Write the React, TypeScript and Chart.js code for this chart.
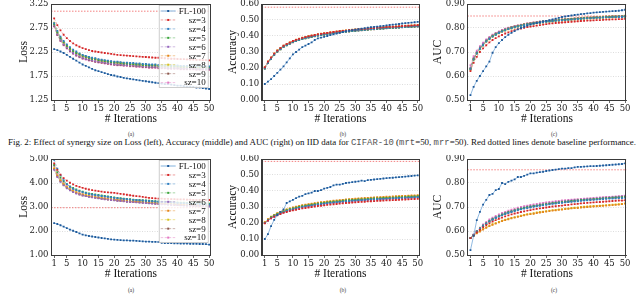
import React, { useEffect, useLayoutEffect, useRef } from 'react';
import { Chart, registerables } from 'chart.js';

Chart.register(...registerables);

// ---------------- data ----------------
const ITERATIONS = [1,2,3,4,5,6,7,8,9,10,11,12,13,14,15,16,17,18,19,20,21,22,23,24,25,26,27,28,29,30,31,32,33,34,35,36,37,38,39,40,41,42,43,44,45,46,47,48,49,50];
const X_TICKS = [1,5,10,15,20,25,30,35,40,45,50];
const X_MIN = 0;
const X_MAX = 50.5;
const SERIES_LABELS = ['FL-100','sz=3','sz=4','sz=5','sz=6','sz=7','sz=8','sz=9','sz=10'];
const MARK_COLORS = ['#1f5a9a','#d62728','#2f7fc0','#3ca53c','#9467bd','#e5861a','#d8c21c','#8c564b','#e377c2'];
const LINE_COLORS = ['rgba(70,140,205,0.75)','rgba(214,39,40,0.5)','rgba(47,127,192,0.5)','rgba(60,165,60,0.5)','rgba(148,103,189,0.5)','rgba(229,134,26,0.5)','rgba(216,194,28,0.55)','rgba(140,86,75,0.5)','rgba(227,119,194,0.5)'];

const IID_LOSS_TICKS = [1.25,1.75,2.25,2.75,3.25];
const ACC_TICKS = [0,0.1,0.2,0.3,0.4,0.5,0.6];
const AUC_TICKS = [0.5,0.6,0.7,0.8,0.9];
const NONIID_LOSS_TICKS = [1,2,3,4,5];

const IID_LOSS_BASELINE = 3.10;
const IID_ACC_BASELINE = 0.58;
const IID_AUC_BASELINE = 0.85;
const NONIID_LOSS_BASELINE = 2.97;
const NONIID_ACC_BASELINE = 0.585;
const NONIID_AUC_BASELINE = 0.855;

// IID loss
const IID_LOSS_FL100 = [2.31,2.29,2.26,2.23,2.19,2.15,2.11,2.07,2.03,1.99,1.96,1.93,1.90,1.87,1.85,1.83,1.81,1.79,1.77,1.76,1.74,1.73,1.71,1.70,1.69,1.68,1.67,1.66,1.65,1.64,1.63,1.62,1.61,1.60,1.59,1.58,1.58,1.57,1.56,1.55,1.55,1.54,1.53,1.53,1.52,1.51,1.51,1.50,1.49,1.48];
const IID_LOSS_SZ3 = [2.95,2.81,2.70,2.61,2.54,2.48,2.43,2.39,2.36,2.33,2.31,2.29,2.27,2.26,2.25,2.24,2.23,2.22,2.21,2.20,2.19,2.185,2.18,2.175,2.17,2.165,2.16,2.155,2.15,2.145,2.14,2.135,2.13,2.13,2.125,2.12,2.115,2.11,2.11,2.105,2.10,2.10,2.095,2.09,2.09,2.085,2.085,2.08,2.08,2.075];
const IID_LOSS_SZ4 = [2.85,2.69,2.57,2.48,2.41,2.35,2.30,2.26,2.22,2.19,2.17,2.15,2.13,2.12,2.10,2.09,2.08,2.07,2.06,2.05,2.05,2.04,2.03,2.03,2.02,2.02,2.01,2.01,2.00,2.00,1.99,1.99,1.99,1.98,1.98,1.98,1.97,1.97,1.97,1.97,1.96,1.96,1.96,1.96,1.96,1.95,1.95,1.95,1.95,1.95];
const IID_LOSS_SZ5 = [2.83,2.66,2.54,2.45,2.38,2.32,2.27,2.23,2.20,2.17,2.15,2.13,2.11,2.10,2.08,2.07,2.06,2.05,2.04,2.03,2.03,2.02,2.01,2.01,2.00,2.00,1.99,1.99,1.98,1.98,1.97,1.97,1.97,1.96,1.96,1.96,1.95,1.95,1.95,1.95,1.94,1.94,1.94,1.94,1.94,1.93,1.93,1.93,1.93,1.93];
const IID_LOSS_SZ6 = [2.80,2.62,2.50,2.41,2.34,2.28,2.23,2.19,2.16,2.13,2.11,2.09,2.08,2.06,2.05,2.04,2.03,2.02,2.01,2.00,1.99,1.99,1.98,1.98,1.97,1.97,1.96,1.96,1.95,1.95,1.94,1.94,1.94,1.93,1.93,1.93,1.92,1.92,1.92,1.92,1.91,1.91,1.91,1.91,1.91,1.90,1.90,1.90,1.90,1.90];
const IID_LOSS_SZ7 = [2.82,2.65,2.53,2.44,2.37,2.31,2.26,2.22,2.19,2.16,2.14,2.12,2.10,2.09,2.07,2.06,2.05,2.04,2.03,2.02,2.02,2.01,2.00,2.00,1.99,1.99,1.98,1.98,1.97,1.97,1.96,1.96,1.96,1.95,1.95,1.95,1.94,1.94,1.94,1.94,1.93,1.93,1.93,1.93,1.93,1.92,1.92,1.92,1.92,1.92];
const IID_LOSS_SZ8 = [2.86,2.68,2.55,2.46,2.39,2.33,2.28,2.24,2.21,2.18,2.16,2.14,2.12,2.11,2.09,2.08,2.07,2.06,2.05,2.04,2.04,2.03,2.02,2.02,2.01,2.01,2.00,2.00,1.99,1.99,1.98,1.98,1.98,1.97,1.97,1.97,1.96,1.96,1.96,1.96,1.95,1.95,1.95,1.95,1.95,1.94,1.94,1.94,1.94,1.94];
const IID_LOSS_SZ9 = [2.79,2.61,2.49,2.40,2.33,2.27,2.22,2.18,2.15,2.12,2.10,2.08,2.07,2.05,2.04,2.03,2.02,2.01,2.00,1.99,1.98,1.98,1.97,1.97,1.96,1.96,1.95,1.95,1.94,1.94,1.93,1.93,1.93,1.92,1.92,1.92,1.91,1.91,1.91,1.91,1.90,1.90,1.90,1.90,1.90,1.89,1.89,1.89,1.89,1.89];
const IID_LOSS_SZ10 = [2.78,2.60,2.48,2.39,2.32,2.26,2.21,2.17,2.14,2.11,2.09,2.07,2.06,2.04,2.03,2.02,2.01,2.00,1.99,1.98,1.97,1.97,1.96,1.96,1.95,1.95,1.94,1.94,1.93,1.93,1.92,1.92,1.92,1.91,1.91,1.91,1.90,1.90,1.90,1.90,1.89,1.89,1.89,1.89,1.89,1.88,1.88,1.88,1.88,1.88];

// IID accuracy
const IID_ACC_FL100 = [0.100,0.115,0.130,0.150,0.170,0.190,0.210,0.235,0.260,0.285,0.300,0.315,0.330,0.340,0.350,0.360,0.375,0.385,0.390,0.395,0.400,0.405,0.410,0.415,0.420,0.425,0.430,0.433,0.437,0.440,0.443,0.446,0.449,0.452,0.455,0.457,0.459,0.461,0.463,0.466,0.469,0.471,0.473,0.475,0.478,0.480,0.482,0.484,0.486,0.488];
const IID_ACC_SZ3 = [0.204,0.240,0.265,0.290,0.309,0.324,0.339,0.349,0.359,0.369,0.376,0.382,0.388,0.393,0.398,0.402,0.406,0.410,0.413,0.416,0.419,0.422,0.425,0.427,0.430,0.432,0.434,0.436,0.438,0.440,0.442,0.444,0.445,0.447,0.449,0.450,0.452,0.453,0.454,0.456,0.457,0.458,0.459,0.460,0.462,0.463,0.464,0.465,0.466,0.467];
const IID_ACC_SZ4 = [0.198,0.233,0.258,0.283,0.303,0.318,0.333,0.343,0.353,0.363,0.370,0.376,0.382,0.387,0.392,0.396,0.400,0.404,0.407,0.410,0.413,0.416,0.419,0.421,0.424,0.426,0.428,0.430,0.432,0.434,0.436,0.438,0.439,0.441,0.443,0.444,0.446,0.447,0.448,0.450,0.451,0.452,0.453,0.454,0.456,0.457,0.458,0.459,0.460,0.461];
const IID_ACC_SZ5 = [0.197,0.232,0.257,0.282,0.302,0.317,0.332,0.342,0.352,0.362,0.369,0.375,0.381,0.386,0.391,0.395,0.399,0.403,0.406,0.409,0.412,0.415,0.418,0.420,0.423,0.425,0.427,0.429,0.431,0.433,0.435,0.437,0.438,0.440,0.442,0.443,0.445,0.446,0.447,0.449,0.450,0.451,0.452,0.453,0.455,0.456,0.457,0.458,0.459,0.460];
const IID_ACC_SZ6 = [0.202,0.237,0.262,0.287,0.307,0.322,0.337,0.347,0.357,0.367,0.374,0.380,0.386,0.391,0.396,0.400,0.404,0.408,0.411,0.414,0.417,0.420,0.423,0.425,0.428,0.430,0.432,0.434,0.436,0.438,0.440,0.442,0.443,0.445,0.447,0.448,0.450,0.451,0.452,0.454,0.455,0.456,0.457,0.458,0.460,0.461,0.462,0.463,0.464,0.465];
const IID_ACC_SZ7 = [0.205,0.241,0.266,0.291,0.310,0.325,0.340,0.350,0.360,0.370,0.377,0.383,0.389,0.394,0.399,0.403,0.407,0.411,0.414,0.417,0.420,0.423,0.426,0.428,0.431,0.433,0.435,0.437,0.439,0.441,0.443,0.445,0.446,0.448,0.450,0.451,0.453,0.454,0.455,0.457,0.458,0.459,0.460,0.461,0.463,0.464,0.465,0.466,0.467,0.468];
const IID_ACC_SZ8 = [0.203,0.238,0.263,0.288,0.308,0.323,0.338,0.348,0.358,0.368,0.375,0.381,0.387,0.392,0.397,0.401,0.405,0.409,0.412,0.415,0.418,0.421,0.424,0.426,0.429,0.431,0.433,0.435,0.437,0.439,0.441,0.443,0.444,0.446,0.448,0.449,0.451,0.452,0.453,0.455,0.456,0.457,0.458,0.459,0.461,0.462,0.463,0.464,0.465,0.466];
const IID_ACC_SZ9 = [0.196,0.231,0.256,0.281,0.301,0.316,0.331,0.341,0.351,0.361,0.368,0.374,0.380,0.385,0.390,0.394,0.398,0.402,0.405,0.408,0.411,0.414,0.417,0.419,0.422,0.424,0.426,0.428,0.430,0.432,0.434,0.436,0.437,0.439,0.441,0.442,0.444,0.445,0.446,0.448,0.449,0.450,0.451,0.452,0.454,0.455,0.456,0.457,0.458,0.459];
const IID_ACC_SZ10 = [0.200,0.235,0.260,0.285,0.305,0.320,0.335,0.345,0.355,0.365,0.372,0.378,0.384,0.389,0.394,0.398,0.402,0.406,0.409,0.412,0.415,0.418,0.421,0.423,0.426,0.428,0.430,0.432,0.434,0.436,0.438,0.440,0.441,0.443,0.445,0.446,0.448,0.449,0.450,0.452,0.453,0.454,0.455,0.456,0.458,0.459,0.460,0.461,0.462,0.463];

// IID AUC
const IID_AUC_FL100 = [0.520,0.555,0.580,0.600,0.620,0.640,0.660,0.697,0.720,0.737,0.750,0.762,0.772,0.780,0.787,0.794,0.800,0.805,0.810,0.814,0.818,0.821,0.824,0.827,0.830,0.833,0.836,0.839,0.842,0.846,0.848,0.850,0.852,0.854,0.856,0.858,0.859,0.861,0.862,0.864,0.865,0.866,0.867,0.868,0.869,0.870,0.871,0.872,0.874,0.876];
const IID_AUC_SZ3 = [0.620,0.655,0.680,0.700,0.715,0.728,0.740,0.750,0.758,0.765,0.771,0.777,0.782,0.787,0.791,0.795,0.798,0.801,0.804,0.806,0.808,0.810,0.812,0.814,0.816,0.818,0.819,0.821,0.822,0.823,0.824,0.825,0.826,0.827,0.828,0.829,0.830,0.831,0.831,0.832,0.833,0.833,0.834,0.835,0.835,0.836,0.836,0.837,0.837,0.838];
const IID_AUC_SZ4 = [0.628,0.668,0.693,0.713,0.728,0.743,0.754,0.764,0.772,0.779,0.785,0.790,0.795,0.799,0.803,0.806,0.809,0.812,0.814,0.816,0.818,0.820,0.822,0.824,0.826,0.827,0.828,0.830,0.831,0.832,0.833,0.834,0.835,0.836,0.837,0.838,0.839,0.840,0.840,0.841,0.842,0.842,0.843,0.844,0.844,0.845,0.845,0.846,0.846,0.847];
const IID_AUC_SZ5 = [0.630,0.670,0.695,0.715,0.730,0.745,0.756,0.766,0.774,0.781,0.787,0.792,0.797,0.801,0.805,0.808,0.811,0.814,0.816,0.818,0.820,0.822,0.824,0.826,0.828,0.829,0.830,0.832,0.833,0.834,0.835,0.836,0.837,0.838,0.839,0.840,0.841,0.842,0.842,0.843,0.844,0.844,0.845,0.846,0.846,0.847,0.847,0.848,0.848,0.849];
const IID_AUC_SZ6 = [0.635,0.675,0.700,0.720,0.735,0.749,0.760,0.769,0.777,0.784,0.790,0.795,0.799,0.803,0.807,0.810,0.813,0.815,0.818,0.820,0.822,0.824,0.826,0.827,0.829,0.830,0.832,0.833,0.834,0.835,0.836,0.837,0.838,0.839,0.840,0.841,0.842,0.843,0.843,0.844,0.845,0.845,0.846,0.847,0.847,0.848,0.848,0.849,0.849,0.850];
const IID_AUC_SZ7 = [0.632,0.672,0.697,0.717,0.732,0.747,0.758,0.768,0.776,0.783,0.789,0.794,0.799,0.803,0.807,0.810,0.813,0.816,0.818,0.820,0.822,0.824,0.826,0.828,0.830,0.831,0.832,0.834,0.835,0.836,0.837,0.838,0.839,0.840,0.841,0.842,0.843,0.844,0.844,0.845,0.846,0.846,0.847,0.848,0.848,0.849,0.849,0.850,0.850,0.851];
const IID_AUC_SZ8 = [0.626,0.666,0.691,0.711,0.727,0.742,0.753,0.763,0.771,0.778,0.784,0.789,0.794,0.798,0.802,0.805,0.808,0.811,0.813,0.815,0.817,0.819,0.821,0.823,0.825,0.826,0.827,0.829,0.830,0.831,0.832,0.833,0.834,0.835,0.836,0.837,0.838,0.839,0.839,0.840,0.841,0.841,0.842,0.843,0.843,0.844,0.844,0.845,0.845,0.846];
const IID_AUC_SZ9 = [0.631,0.671,0.696,0.716,0.731,0.746,0.757,0.767,0.775,0.782,0.788,0.793,0.798,0.802,0.806,0.809,0.812,0.815,0.817,0.819,0.821,0.823,0.825,0.827,0.829,0.830,0.831,0.833,0.834,0.835,0.836,0.837,0.838,0.839,0.840,0.841,0.842,0.843,0.843,0.844,0.845,0.845,0.846,0.847,0.847,0.848,0.848,0.849,0.849,0.850];
const IID_AUC_SZ10 = [0.645,0.683,0.706,0.724,0.739,0.752,0.763,0.772,0.780,0.786,0.792,0.797,0.801,0.805,0.808,0.811,0.814,0.816,0.819,0.821,0.823,0.825,0.826,0.828,0.829,0.831,0.832,0.833,0.834,0.835,0.836,0.837,0.838,0.839,0.840,0.841,0.842,0.842,0.843,0.844,0.844,0.845,0.845,0.846,0.846,0.847,0.847,0.848,0.848,0.849];

// non-IID loss
const NONIID_LOSS_FL100 = [2.33,2.29,2.24,2.18,2.12,2.06,2.01,1.96,1.90,1.85,1.82,1.79,1.77,1.75,1.73,1.71,1.69,1.67,1.65,1.64,1.63,1.62,1.61,1.61,1.60,1.60,1.59,1.58,1.57,1.56,1.56,1.55,1.55,1.54,1.51,1.50,1.50,1.50,1.49,1.49,1.48,1.48,1.48,1.47,1.47,1.47,1.46,1.46,1.45,1.43];
const NONIID_LOSS_SZ3 = [4.82,4.55,4.35,4.20,4.10,4.01,3.94,3.88,3.84,3.80,3.76,3.73,3.70,3.68,3.66,3.64,3.62,3.61,3.60,3.59,3.57,3.55,3.53,3.51,3.49,3.47,3.45,3.44,3.42,3.40,3.38,3.37,3.36,3.35,3.35,3.34,3.34,3.33,3.33,3.32,3.32,3.32,3.31,3.31,3.30,3.30,3.30,3.29,3.29,3.29];
const NONIID_LOSS_SZ4 = [4.97,4.60,4.33,4.12,3.95,3.84,3.76,3.70,3.66,3.62,3.58,3.55,3.52,3.50,3.48,3.46,3.44,3.42,3.40,3.38,3.37,3.35,3.34,3.33,3.31,3.30,3.29,3.28,3.27,3.26,3.25,3.24,3.23,3.22,3.21,3.20,3.19,3.19,3.18,3.17,3.16,3.16,3.15,3.14,3.14,3.13,3.12,3.12,3.11,3.10];
const NONIID_LOSS_SZ5 = [4.75,4.45,4.23,4.07,3.95,3.86,3.79,3.73,3.68,3.64,3.60,3.57,3.54,3.52,3.50,3.48,3.46,3.44,3.42,3.40,3.38,3.37,3.35,3.34,3.33,3.31,3.30,3.29,3.28,3.27,3.26,3.25,3.24,3.23,3.22,3.22,3.21,3.20,3.19,3.19,3.18,3.18,3.17,3.17,3.16,3.16,3.15,3.15,3.15,3.14];
const NONIID_LOSS_SZ6 = [4.55,4.25,4.05,3.90,3.78,3.69,3.62,3.56,3.52,3.48,3.45,3.42,3.40,3.38,3.36,3.34,3.32,3.31,3.29,3.28,3.26,3.25,3.24,3.22,3.21,3.20,3.19,3.18,3.17,3.16,3.15,3.14,3.13,3.12,3.11,3.11,3.10,3.09,3.08,3.08,3.07,3.06,3.06,3.05,3.05,3.04,3.04,3.03,3.03,3.02];
const NONIID_LOSS_SZ7 = [4.60,4.30,4.09,3.93,3.81,3.72,3.65,3.59,3.54,3.50,3.47,3.44,3.42,3.40,3.38,3.36,3.34,3.32,3.31,3.29,3.28,3.26,3.25,3.24,3.23,3.22,3.21,3.20,3.19,3.18,3.17,3.16,3.15,3.14,3.13,3.12,3.12,3.11,3.10,3.09,3.09,3.08,3.07,3.07,3.06,3.06,3.05,3.05,3.04,3.04];
const NONIID_LOSS_SZ8 = [4.62,4.33,4.12,3.96,3.84,3.75,3.68,3.62,3.57,3.53,3.50,3.47,3.44,3.42,3.40,3.38,3.36,3.35,3.33,3.32,3.30,3.29,3.27,3.26,3.25,3.24,3.23,3.22,3.21,3.20,3.19,3.18,3.17,3.16,3.15,3.14,3.14,3.13,3.12,3.12,3.11,3.10,3.10,3.09,3.09,3.08,3.08,3.07,3.07,3.06];
const NONIID_LOSS_SZ9 = [4.58,4.28,4.07,3.91,3.80,3.71,3.64,3.58,3.53,3.49,3.46,3.43,3.41,3.39,3.37,3.35,3.33,3.32,3.30,3.29,3.27,3.26,3.25,3.23,3.22,3.21,3.20,3.19,3.18,3.17,3.16,3.15,3.14,3.13,3.13,3.12,3.11,3.10,3.10,3.09,3.08,3.08,3.07,3.07,3.06,3.06,3.05,3.05,3.04,3.04];
const NONIID_LOSS_SZ10 = [4.70,4.38,4.16,4.00,3.88,3.79,3.72,3.66,3.61,3.57,3.54,3.51,3.48,3.46,3.44,3.42,3.40,3.38,3.37,3.35,3.34,3.32,3.31,3.30,3.28,3.27,3.26,3.25,3.24,3.23,3.22,3.21,3.20,3.19,3.18,3.18,3.17,3.16,3.15,3.15,3.14,3.13,3.13,3.12,3.12,3.11,3.11,3.10,3.10,3.09];

// non-IID accuracy
const NONIID_ACC_FL100 = [0.100,0.130,0.180,0.220,0.250,0.270,0.285,0.325,0.335,0.345,0.355,0.365,0.370,0.380,0.385,0.390,0.400,0.400,0.405,0.415,0.420,0.425,0.435,0.440,0.440,0.445,0.450,0.452,0.455,0.458,0.460,0.465,0.462,0.468,0.470,0.472,0.474,0.476,0.478,0.480,0.482,0.483,0.485,0.487,0.488,0.490,0.492,0.494,0.496,0.498];
const NONIID_ACC_SZ3 = [0.198,0.215,0.229,0.239,0.248,0.256,0.263,0.269,0.274,0.279,0.283,0.287,0.291,0.294,0.297,0.300,0.303,0.306,0.308,0.310,0.313,0.315,0.317,0.319,0.321,0.323,0.325,0.326,0.328,0.329,0.331,0.332,0.333,0.335,0.336,0.337,0.338,0.339,0.340,0.341,0.342,0.343,0.344,0.345,0.346,0.347,0.348,0.349,0.350,0.351];
const NONIID_ACC_SZ4 = [0.199,0.216,0.231,0.242,0.252,0.261,0.268,0.275,0.281,0.286,0.291,0.296,0.300,0.304,0.307,0.310,0.313,0.316,0.319,0.321,0.324,0.326,0.328,0.330,0.332,0.334,0.336,0.337,0.339,0.340,0.342,0.343,0.344,0.346,0.347,0.348,0.349,0.350,0.351,0.352,0.353,0.354,0.355,0.356,0.357,0.358,0.359,0.360,0.361,0.362];
const NONIID_ACC_SZ5 = [0.201,0.220,0.236,0.247,0.257,0.266,0.273,0.280,0.286,0.291,0.296,0.301,0.305,0.309,0.312,0.315,0.318,0.321,0.324,0.326,0.329,0.331,0.333,0.335,0.337,0.339,0.341,0.342,0.344,0.345,0.347,0.348,0.349,0.351,0.352,0.353,0.354,0.355,0.356,0.357,0.358,0.359,0.360,0.361,0.362,0.363,0.364,0.365,0.366,0.367];
const NONIID_ACC_SZ6 = [0.199,0.214,0.229,0.240,0.250,0.259,0.266,0.273,0.279,0.284,0.289,0.294,0.298,0.302,0.305,0.308,0.311,0.314,0.317,0.319,0.322,0.324,0.326,0.328,0.330,0.332,0.334,0.335,0.337,0.338,0.340,0.341,0.342,0.344,0.345,0.346,0.347,0.348,0.349,0.350,0.351,0.352,0.353,0.354,0.355,0.356,0.357,0.358,0.359,0.360];
const NONIID_ACC_SZ7 = [0.205,0.224,0.239,0.251,0.261,0.270,0.278,0.285,0.291,0.297,0.302,0.307,0.311,0.315,0.318,0.321,0.324,0.327,0.330,0.332,0.335,0.337,0.339,0.341,0.343,0.345,0.347,0.349,0.350,0.352,0.353,0.355,0.356,0.357,0.359,0.360,0.361,0.362,0.363,0.364,0.365,0.366,0.367,0.368,0.369,0.370,0.371,0.372,0.373,0.374];
const NONIID_ACC_SZ8 = [0.203,0.223,0.238,0.250,0.260,0.269,0.276,0.283,0.289,0.294,0.299,0.304,0.308,0.312,0.315,0.318,0.321,0.324,0.327,0.329,0.332,0.334,0.336,0.338,0.340,0.342,0.344,0.345,0.347,0.348,0.350,0.351,0.352,0.354,0.355,0.356,0.357,0.358,0.359,0.360,0.361,0.362,0.363,0.364,0.365,0.366,0.367,0.368,0.369,0.370];
const NONIID_ACC_SZ9 = [0.200,0.219,0.234,0.245,0.255,0.264,0.271,0.278,0.284,0.289,0.294,0.299,0.303,0.307,0.310,0.313,0.316,0.319,0.322,0.324,0.327,0.329,0.331,0.333,0.335,0.337,0.339,0.340,0.342,0.343,0.345,0.346,0.347,0.349,0.350,0.351,0.352,0.353,0.354,0.355,0.356,0.357,0.358,0.359,0.360,0.361,0.362,0.363,0.364,0.365];
const NONIID_ACC_SZ10 = [0.200,0.218,0.233,0.244,0.254,0.263,0.270,0.277,0.283,0.288,0.293,0.298,0.302,0.306,0.309,0.312,0.315,0.318,0.321,0.323,0.326,0.328,0.330,0.332,0.334,0.336,0.338,0.339,0.341,0.342,0.344,0.345,0.346,0.348,0.349,0.350,0.351,0.352,0.353,0.354,0.355,0.356,0.357,0.358,0.359,0.360,0.361,0.362,0.363,0.364];

// non-IID AUC
const NONIID_AUC_FL100 = [0.520,0.580,0.645,0.680,0.710,0.730,0.750,0.755,0.770,0.775,0.800,0.795,0.805,0.810,0.815,0.825,0.825,0.830,0.835,0.840,0.840,0.843,0.845,0.847,0.850,0.852,0.854,0.856,0.858,0.860,0.860,0.862,0.862,0.865,0.867,0.867,0.868,0.869,0.870,0.870,0.871,0.872,0.873,0.874,0.875,0.876,0.877,0.878,0.879,0.882];
const NONIID_AUC_SZ3 = [0.570,0.582,0.594,0.605,0.615,0.624,0.632,0.639,0.645,0.651,0.656,0.661,0.665,0.669,0.673,0.676,0.679,0.682,0.685,0.687,0.690,0.692,0.694,0.696,0.698,0.700,0.702,0.703,0.705,0.706,0.708,0.709,0.711,0.712,0.713,0.715,0.716,0.717,0.718,0.719,0.720,0.721,0.722,0.723,0.724,0.725,0.726,0.727,0.727,0.728];
const NONIID_AUC_SZ4 = [0.570,0.583,0.597,0.609,0.620,0.630,0.639,0.647,0.654,0.660,0.665,0.670,0.675,0.679,0.683,0.687,0.690,0.693,0.696,0.698,0.701,0.703,0.705,0.707,0.709,0.711,0.713,0.714,0.716,0.717,0.719,0.720,0.722,0.723,0.724,0.726,0.727,0.728,0.729,0.730,0.731,0.732,0.733,0.734,0.735,0.735,0.736,0.737,0.737,0.738];
const NONIID_AUC_SZ5 = [0.570,0.584,0.598,0.611,0.622,0.632,0.641,0.649,0.656,0.662,0.668,0.673,0.678,0.682,0.686,0.690,0.693,0.696,0.699,0.701,0.704,0.706,0.708,0.710,0.712,0.714,0.716,0.717,0.719,0.720,0.722,0.723,0.725,0.726,0.727,0.729,0.730,0.731,0.732,0.733,0.734,0.735,0.736,0.737,0.738,0.739,0.740,0.740,0.741,0.742];
const NONIID_AUC_SZ6 = [0.570,0.585,0.599,0.612,0.624,0.634,0.643,0.651,0.658,0.664,0.670,0.675,0.680,0.684,0.688,0.692,0.695,0.698,0.701,0.704,0.706,0.708,0.710,0.712,0.714,0.716,0.718,0.720,0.721,0.723,0.724,0.726,0.727,0.728,0.729,0.731,0.732,0.733,0.734,0.735,0.736,0.737,0.738,0.739,0.740,0.741,0.742,0.743,0.744,0.745];
const NONIID_AUC_SZ7 = [0.570,0.580,0.590,0.598,0.606,0.613,0.620,0.626,0.631,0.636,0.641,0.645,0.649,0.653,0.656,0.659,0.662,0.665,0.668,0.670,0.672,0.675,0.677,0.679,0.681,0.683,0.685,0.686,0.688,0.689,0.691,0.692,0.694,0.695,0.696,0.698,0.699,0.700,0.701,0.702,0.703,0.704,0.705,0.706,0.707,0.708,0.709,0.710,0.712,0.714];
const NONIID_AUC_SZ8 = [0.570,0.581,0.591,0.600,0.608,0.615,0.622,0.628,0.633,0.638,0.643,0.647,0.651,0.655,0.658,0.661,0.664,0.667,0.670,0.672,0.674,0.677,0.679,0.681,0.683,0.685,0.687,0.688,0.690,0.691,0.693,0.694,0.696,0.697,0.698,0.700,0.701,0.702,0.703,0.704,0.705,0.706,0.707,0.708,0.709,0.710,0.711,0.712,0.713,0.715];
const NONIID_AUC_SZ9 = [0.570,0.584,0.598,0.610,0.621,0.631,0.640,0.648,0.655,0.661,0.667,0.672,0.677,0.681,0.685,0.689,0.692,0.695,0.698,0.700,0.703,0.705,0.707,0.709,0.711,0.713,0.715,0.716,0.718,0.719,0.721,0.722,0.724,0.725,0.726,0.728,0.729,0.730,0.731,0.732,0.733,0.734,0.735,0.736,0.737,0.738,0.739,0.740,0.742,0.743];
const NONIID_AUC_SZ10 = [0.570,0.585,0.600,0.614,0.627,0.638,0.648,0.656,0.663,0.669,0.675,0.680,0.685,0.689,0.693,0.697,0.700,0.703,0.706,0.709,0.711,0.713,0.715,0.717,0.719,0.721,0.722,0.724,0.725,0.727,0.728,0.729,0.731,0.732,0.733,0.734,0.735,0.736,0.737,0.738,0.739,0.740,0.741,0.742,0.742,0.743,0.744,0.745,0.746,0.747];

// ---------------- plugins ----------------
const framePlugin = {
  id: 'frame',
  afterDraw(chart: any) {
    const { ctx, chartArea: a } = chart;
    ctx.save();
    ctx.strokeStyle = '#3a3a3a';
    ctx.lineWidth = 1;
    ctx.strokeRect(Math.round(a.left) + 0.5, Math.round(a.top) + 0.5, Math.round(a.right - a.left) - 1, Math.round(a.bottom - a.top));
    ctx.restore();
  },
};

const legendPlugin = {
  id: 'boxLegend',
  afterDraw(chart: any, _args: any, opts: any) {
    if (!opts || !opts.show) return;
    const { ctx, chartArea: a } = chart;
    const w = 50, h = 83;
    const x = a.right - 2 - w;
    const y = a.top + 1;
    ctx.save();
    ctx.fillStyle = 'rgba(255,255,255,0.82)';
    ctx.fillRect(x, y, w, h);
    ctx.strokeStyle = '#b8b8b8';
    ctx.lineWidth = 0.7;
    ctx.strokeRect(x + 0.5, y + 0.5, w - 1, h - 1);
    SERIES_LABELS.forEach((label, i) => {
      const cy = y + 6 + i * 8.95;
      ctx.beginPath();
      ctx.setLineDash(i === 0 ? [] : [2.5, 1.5]);
      ctx.strokeStyle = LINE_COLORS[i];
      ctx.lineWidth = 0.9;
      ctx.moveTo(x + 2, cy);
      ctx.lineTo(x + 17, cy);
      ctx.stroke();
      ctx.setLineDash([]);
      ctx.fillStyle = MARK_COLORS[i];
      ctx.fillRect(x + 8.5, cy - 1, 2, 2);
      ctx.fillStyle = '#111';
      ctx.font = '9px "Liberation Serif"';
      ctx.textAlign = 'right';
      ctx.textBaseline = 'middle';
      ctx.fillText(label, x + w - 3, cy + 0.5);
    });
    ctx.restore();
  },
};

// ---------------- panel ----------------
type PanelProps = {
  left: number; top: number; width: number; height: number;
  yAxisWidth: number; padRight: number; yTitle: string; yTitlePad: number;
  yTicks: number[]; series: number[][]; baseline: number; legend: boolean;
};

function Panel(p: PanelProps) {
  const ref = useRef<HTMLCanvasElement | null>(null);
  useEffect(() => {
    const canvas = ref.current!;
    const datasets: any[] = p.series.map((vals, i) => ({
      label: SERIES_LABELS[i],
      data: vals,
      borderColor: LINE_COLORS[i],
      borderWidth: 0.8,
      borderDash: i === 0 ? [] : [2.5, 1.5],
      pointStyle: 'rect',
      pointRadius: 1.3,
      pointBorderWidth: 0,
      pointBackgroundColor: MARK_COLORS[i],
      pointBorderColor: MARK_COLORS[i],
      tension: 0,
      fill: false,
    }));
    datasets.push({
      label: 'baseline',
      data: [{ x: X_MIN, y: p.baseline }, { x: X_MAX, y: p.baseline }],
      borderColor: 'rgba(240,90,90,0.85)',
      borderWidth: 0.9,
      borderDash: [1.5, 1.5],
      pointRadius: 0,
      fill: false,
    });
    const yMin = p.yTicks[0];
    const yMax = p.yTicks[p.yTicks.length - 1];
    const chart = new Chart(canvas, {
      type: 'line',
      data: { labels: ITERATIONS, datasets },
      plugins: [framePlugin, legendPlugin],
      options: {
        animation: false,
        responsive: false,
        maintainAspectRatio: false,
        devicePixelRatio: 1,
        events: [],
        layout: { padding: { left: 0, top: 4, right: p.padRight, bottom: 0 } },
        plugins: {
          legend: { display: false },
          tooltip: { enabled: false },
          boxLegend: { show: p.legend },
        } as any,
        scales: {
          x: {
            type: 'linear',
            min: X_MIN,
            max: X_MAX,
            afterBuildTicks: (s: any) => { s.ticks = X_TICKS.map((v) => ({ value: v })); },
            afterFit: (s: any) => { s.height = 26; s.paddingLeft = 0; s.paddingRight = 0; },
            ticks: {
              autoSkip: false, maxRotation: 0, padding: 1, color: '#222',
              font: { family: 'DejaVu Serif', size: 8.5, lineHeight: 1.2 },
              callback: (v: any) => String(v),
            },
            grid: { display: true, drawOnChartArea: false, drawTicks: true, tickLength: 3, color: '#444', lineWidth: 0.8 },
            border: { display: true, color: '#3a3a3a', width: 1 },
            title: {
              display: true, text: '# Iterations', color: '#111', padding: 0,
              font: { family: 'Liberation Serif', size: 11.5, lineHeight: 1.2 },
            },
          },
          y: {
            type: 'linear',
            min: yMin,
            max: yMax,
            afterBuildTicks: (s: any) => { s.ticks = p.yTicks.map((v) => ({ value: v })); },
            afterFit: (s: any) => { s.width = p.yAxisWidth; s.paddingTop = 0; s.paddingBottom = 0; },
            ticks: {
              padding: 2.5, color: '#222',
              font: { family: 'DejaVu Serif', size: 8.5, lineHeight: 1.2 },
              callback: (v: any) => Number(v).toFixed(2),
            },
            grid: { display: true, drawTicks: false, color: '#cfcfcf', lineWidth: 0.7 },
            border: { display: true, color: '#3a3a3a', width: 1, dash: [1, 1.5] },
            title: {
              display: true, text: p.yTitle, color: '#111',
              padding: { top: p.yTitlePad, bottom: 0 },
              font: { family: 'Liberation Serif', size: 11.5, lineHeight: 1.2 },
            },
          },
        },
      } as any,
    });
    return () => chart.destroy();
  }, []);
  return (
    <canvas
      ref={ref}
      width={p.width}
      height={p.height}
      style={{ position: 'absolute', left: p.left, top: p.top, width: p.width, height: p.height }}
    />
  );
}

const COLS = [
  { left: 0, width: 216, yAxisWidth: 51, padRight: 5.3 },
  { left: 216, width: 210, yAxisWidth: 45.7, padRight: 6.7 },
  { left: 426, width: 214, yAxisWidth: 41.3, padRight: 13.3 },
];

const PANELS: PanelProps[] = [
  { ...COLS[0], top: 0, height: 126, yTitle: 'Loss', yTitlePad: 17.1, yTicks: IID_LOSS_TICKS, baseline: IID_LOSS_BASELINE, legend: true,
    series: [IID_LOSS_FL100, IID_LOSS_SZ3, IID_LOSS_SZ4, IID_LOSS_SZ5, IID_LOSS_SZ6, IID_LOSS_SZ7, IID_LOSS_SZ8, IID_LOSS_SZ9, IID_LOSS_SZ10] },
  { ...COLS[1], top: 0, height: 126, yTitle: 'Accuracy', yTitlePad: 9.8, yTicks: ACC_TICKS, baseline: IID_ACC_BASELINE, legend: false,
    series: [IID_ACC_FL100, IID_ACC_SZ3, IID_ACC_SZ4, IID_ACC_SZ5, IID_ACC_SZ6, IID_ACC_SZ7, IID_ACC_SZ8, IID_ACC_SZ9, IID_ACC_SZ10] },
  { ...COLS[2], top: 0, height: 126, yTitle: 'AUC', yTitlePad: 5.4, yTicks: AUC_TICKS, baseline: IID_AUC_BASELINE, legend: false,
    series: [IID_AUC_FL100, IID_AUC_SZ3, IID_AUC_SZ4, IID_AUC_SZ5, IID_AUC_SZ6, IID_AUC_SZ7, IID_AUC_SZ8, IID_AUC_SZ9, IID_AUC_SZ10] },
  { ...COLS[0], top: 155, height: 126, yTitle: 'Loss', yTitlePad: 17.1, yTicks: NONIID_LOSS_TICKS, baseline: NONIID_LOSS_BASELINE, legend: true,
    series: [NONIID_LOSS_FL100, NONIID_LOSS_SZ3, NONIID_LOSS_SZ4, NONIID_LOSS_SZ5, NONIID_LOSS_SZ6, NONIID_LOSS_SZ7, NONIID_LOSS_SZ8, NONIID_LOSS_SZ9, NONIID_LOSS_SZ10] },
  { ...COLS[1], top: 155, height: 126, yTitle: 'Accuracy', yTitlePad: 9.8, yTicks: ACC_TICKS, baseline: NONIID_ACC_BASELINE, legend: false,
    series: [NONIID_ACC_FL100, NONIID_ACC_SZ3, NONIID_ACC_SZ4, NONIID_ACC_SZ5, NONIID_ACC_SZ6, NONIID_ACC_SZ7, NONIID_ACC_SZ8, NONIID_ACC_SZ9, NONIID_ACC_SZ10] },
  { ...COLS[2], top: 155, height: 126, yTitle: 'AUC', yTitlePad: 5.4, yTicks: AUC_TICKS, baseline: NONIID_AUC_BASELINE, legend: false,
    series: [NONIID_AUC_FL100, NONIID_AUC_SZ3, NONIID_AUC_SZ4, NONIID_AUC_SZ5, NONIID_AUC_SZ6, NONIID_AUC_SZ7, NONIID_AUC_SZ8, NONIID_AUC_SZ9, NONIID_AUC_SZ10] },
];

const SUB_LABELS = ['(a)', '(b)', '(c)'];
const SUB_LABEL_X = [131, 343, 554];

export default function App() {
  const capRef = useRef<HTMLDivElement | null>(null);
  useLayoutEffect(() => {
    const fit = () => {
      const el = capRef.current;
      if (!el) return;
      el.style.transform = 'none';
      const w = el.scrollWidth;
      if (w > 0) el.style.transform = `scaleX(${628 / w})`;
    };
    fit();
    if ((document as any).fonts && (document as any).fonts.ready) (document as any).fonts.ready.then(fit);
  }, []);
  const mono: React.CSSProperties = { fontFamily: '"Liberation Mono", monospace', color: '#555' };
  return (
    <div style={{ position: 'absolute', left: 0, top: 0, width: 640, height: 295, background: '#fff', overflow: 'hidden' }}>
      {PANELS.map((p, i) => <Panel key={i} {...p} />)}
      {[0, 1].map((row) =>
        SUB_LABELS.map((t, i) => (
          <div key={`${row}-${i}`} style={{
            position: 'absolute', left: SUB_LABEL_X[i] - 10, width: 20, top: row === 0 ? 130.5 : 286.5,
            textAlign: 'center', fontFamily: '"Liberation Serif", serif', fontSize: 5.5, lineHeight: '7px', color: '#333',
          }}>{t}</div>
        ))
      )}
      <div ref={capRef} style={{
        position: 'absolute', left: 8, top: 137, whiteSpace: 'nowrap', transformOrigin: '0 0',
        fontFamily: '"Liberation Serif", serif', fontSize: 8.6, lineHeight: '11px', color: '#111',
      }}>
        Fig. 2: Effect of synergy size on Loss (left), Accuracy (middle) and AUC (right) on IID data for <span style={mono}>CIFAR-10</span> (<span style={mono}>mrt</span>=50, <span style={mono}>mrr</span>=50). Red dotted lines denote baseline performance.
      </div>
    </div>
  );
}
